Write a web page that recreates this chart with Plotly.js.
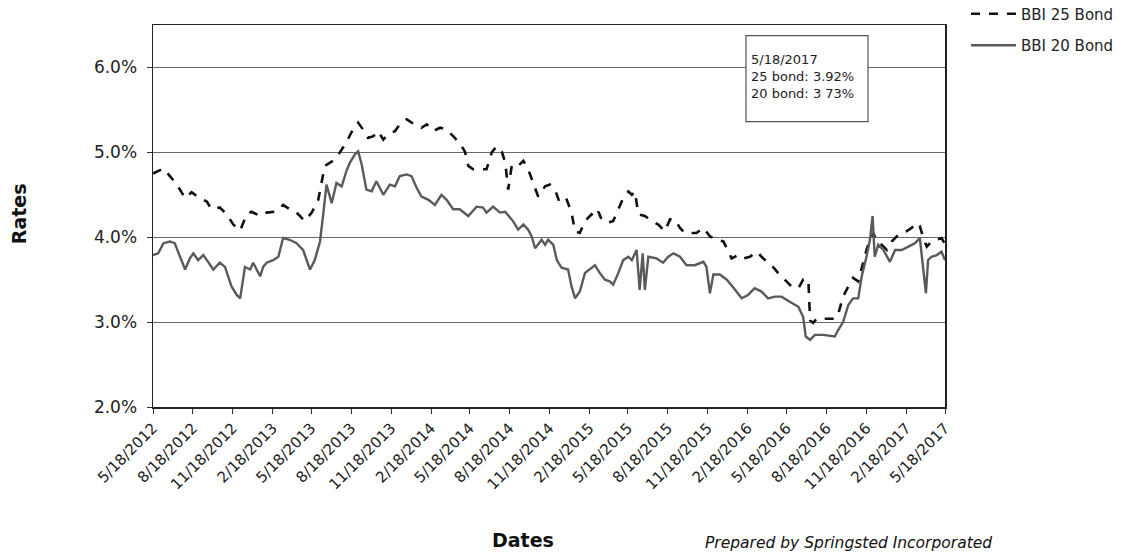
<!DOCTYPE html>
<html>
<head>
<meta charset="utf-8">
<script src="https://cdn.plot.ly/plotly-3.0.1.min.js"></script>
<style>html,body{margin:0;padding:0;background:#fff;}#chart{width:1133px;height:555px;}</style>
</head>
<body>
<div id="chart"></div>
<script>
// ---- Data ----
const bbi25Dates = ['2012-05-18','2012-06-11','2012-06-26','2012-07-12','2012-07-31','2012-08-15','2012-09-03','2012-09-19','2012-09-30','2012-10-19','2012-11-04','2012-11-19','2012-12-05','2012-12-20','2012-12-31','2013-01-20','2013-02-04','2013-02-23','2013-03-14','2013-03-29','2013-04-14','2013-05-03','2013-05-19','2013-06-03','2013-06-18','2013-07-07','2013-07-23','2013-08-07','2013-08-22','2013-09-03','2013-09-14','2013-09-26','2013-10-08','2013-10-19','2013-10-31','2013-11-11','2013-11-27','2013-12-08','2013-12-24','2014-01-04','2014-01-16','2014-01-27','2014-02-08','2014-02-23','2014-03-11','2014-03-26','2014-04-10','2014-04-25','2014-05-07','2014-05-15','2014-05-26','2014-06-11','2014-06-26','2014-07-08','2014-07-19','2014-07-31','2014-08-08','2014-08-15','2014-08-23','2014-09-03','2014-09-19','2014-09-30','2014-10-12','2014-10-23','2014-11-08','2014-11-19','2014-12-01','2014-12-12','2014-12-28','2015-01-08','2015-01-16','2015-01-27','2015-02-08','2015-02-23','2015-03-03','2015-03-11','2015-03-18','2015-03-30','2015-04-14','2015-04-26','2015-05-07','2015-05-19','2015-05-27','2015-06-03','2015-06-11','2015-06-26','2015-07-12','2015-07-27','2015-08-11','2015-08-23','2015-09-03','2015-09-15','2015-09-26','2015-10-08','2015-10-23','2015-11-08','2015-11-23','2015-12-09','2015-12-24','2016-01-01','2016-01-12','2016-01-27','2016-02-08','2016-02-23','2016-03-10','2016-03-25','2016-04-13','2016-04-28','2016-05-14','2016-05-29','2016-06-14','2016-06-25','2016-07-07','2016-07-11','2016-07-18','2016-07-26','2016-08-18','2016-09-06','2016-09-14','2016-09-25','2016-10-07','2016-10-18','2016-10-30','2016-11-07','2016-11-18','2016-11-26','2016-12-04','2016-12-11','2016-12-23','2017-01-04','2017-01-15','2017-01-27','2017-02-07','2017-02-18','2017-03-02','2017-03-14','2017-03-21','2017-03-29','2017-04-06','2017-04-17','2017-04-29','2017-05-10','2017-05-18'];
const bbi25Values = [4.75,4.81,4.72,4.62,4.46,4.53,4.46,4.42,4.33,4.35,4.27,4.15,4.08,4.27,4.30,4.25,4.29,4.30,4.38,4.33,4.29,4.19,4.29,4.44,4.84,4.90,5.00,5.12,5.27,5.35,5.27,5.17,5.19,5.25,5.15,5.21,5.25,5.33,5.39,5.35,5.33,5.29,5.33,5.25,5.29,5.27,5.19,5.11,5.01,4.84,4.80,4.80,4.80,5.00,5.07,5.01,4.88,4.56,4.84,4.82,4.90,4.80,4.62,4.48,4.60,4.62,4.56,4.40,4.44,4.29,4.07,4.05,4.19,4.27,4.23,4.30,4.21,4.17,4.19,4.33,4.46,4.54,4.50,4.54,4.27,4.25,4.19,4.15,4.07,4.21,4.21,4.11,4.05,4.05,4.05,4.11,4.01,3.97,3.95,3.87,3.75,3.79,3.75,3.77,3.83,3.75,3.67,3.58,3.50,3.42,3.40,3.50,3.50,3.02,2.99,3.04,3.04,3.04,3.10,3.30,3.42,3.52,3.48,3.65,3.85,3.97,4.05,3.95,3.91,3.85,3.95,4.01,4.05,4.07,4.11,4.17,4.13,3.99,3.89,3.95,3.97,3.99,3.92];

const bbi20Dates = ['2012-05-18','2012-05-30','2012-06-11','2012-06-26','2012-07-07','2012-07-19','2012-07-31','2012-08-11','2012-08-19','2012-08-30','2012-09-11','2012-09-22','2012-10-04','2012-10-19','2012-10-31','2012-11-15','2012-11-27','2012-12-05','2012-12-16','2012-12-28','2013-01-04','2013-01-20','2013-01-27','2013-02-04','2013-02-19','2013-03-03','2013-03-14','2013-03-29','2013-04-14','2013-04-29','2013-05-15','2013-05-26','2013-06-07','2013-06-14','2013-06-22','2013-07-04','2013-07-15','2013-07-27','2013-08-07','2013-08-15','2013-08-27','2013-09-03','2013-09-11','2013-09-22','2013-10-04','2013-10-15','2013-10-31','2013-11-15','2013-11-27','2013-12-08','2013-12-24','2014-01-04','2014-01-16','2014-01-27','2014-02-12','2014-02-27','2014-03-14','2014-03-26','2014-04-10','2014-04-25','2014-05-15','2014-06-03','2014-06-18','2014-06-26','2014-07-11','2014-07-27','2014-08-08','2014-08-26','2014-09-07','2014-09-19','2014-09-30','2014-10-08','2014-10-16','2014-10-31','2014-11-08','2014-11-15','2014-11-27','2014-12-05','2014-12-16','2014-12-31','2015-01-08','2015-01-16','2015-01-27','2015-02-08','2015-02-19','2015-03-03','2015-03-14','2015-03-26','2015-04-06','2015-04-14','2015-04-26','2015-05-07','2015-05-19','2015-05-27','2015-06-07','2015-06-14','2015-06-21','2015-06-26','2015-07-04','2015-07-23','2015-08-07','2015-08-19','2015-08-31','2015-09-15','2015-09-30','2015-10-19','2015-11-08','2015-11-15','2015-11-23','2015-12-01','2015-12-16','2016-01-01','2016-01-20','2016-02-04','2016-02-19','2016-03-05','2016-03-21','2016-04-05','2016-04-21','2016-05-06','2016-05-25','2016-06-14','2016-06-25','2016-07-01','2016-07-11','2016-07-22','2016-08-10','2016-09-06','2016-09-14','2016-09-25','2016-10-07','2016-10-18','2016-10-30','2016-11-07','2016-11-18','2016-11-26','2016-12-02','2016-12-07','2016-12-15','2016-12-27','2017-01-11','2017-01-23','2017-02-07','2017-02-22','2017-03-10','2017-03-21','2017-03-27','2017-04-04','2017-04-09','2017-04-17','2017-04-29','2017-05-10','2017-05-18'];
const bbi20Values = [3.79,3.81,3.93,3.95,3.93,3.77,3.62,3.75,3.81,3.73,3.79,3.71,3.62,3.70,3.65,3.42,3.32,3.28,3.65,3.62,3.70,3.54,3.65,3.70,3.73,3.77,3.99,3.97,3.93,3.85,3.62,3.73,3.95,4.25,4.62,4.40,4.64,4.60,4.78,4.88,4.98,5.01,4.86,4.56,4.54,4.66,4.50,4.62,4.60,4.72,4.74,4.72,4.58,4.48,4.44,4.38,4.50,4.44,4.33,4.33,4.25,4.36,4.35,4.29,4.36,4.29,4.30,4.19,4.09,4.15,4.09,4.01,3.87,3.97,3.91,3.97,3.91,3.73,3.64,3.62,3.42,3.28,3.36,3.58,3.62,3.67,3.58,3.50,3.48,3.44,3.58,3.73,3.77,3.73,3.85,3.38,3.81,3.38,3.77,3.75,3.70,3.77,3.81,3.77,3.67,3.67,3.71,3.65,3.34,3.56,3.56,3.50,3.38,3.28,3.32,3.40,3.36,3.28,3.30,3.30,3.24,3.18,3.06,2.83,2.79,2.85,2.85,2.83,2.91,3.00,3.20,3.28,3.28,3.54,3.77,3.97,4.25,3.77,3.91,3.85,3.71,3.85,3.85,3.89,3.93,3.99,3.73,3.34,3.73,3.77,3.79,3.83,3.73];

const seriesNames = ['BBI 25 Bond', 'BBI 20 Bond'];
const tickDates = ['2012-05-18','2012-08-18','2012-11-18','2013-02-18','2013-05-18','2013-08-18','2013-11-18','2014-02-18','2014-05-18','2014-08-18','2014-11-18','2015-02-18','2015-05-18','2015-08-18','2015-11-18','2016-02-18','2016-05-18','2016-08-18','2016-11-18','2017-02-18','2017-05-18'];
const tickLabels = ['5/18/2012','8/18/2012','11/18/2012','2/18/2013','5/18/2013','8/18/2013','11/18/2013','2/18/2014','5/18/2014','8/18/2014','11/18/2014','2/18/2015','5/18/2015','8/18/2015','11/18/2015','2/18/2016','5/18/2016','8/18/2016','11/18/2016','2/18/2017','5/18/2017'];
const yTicks = [2, 3, 4, 5, 6];
const yTickLabels = ['2.0%', '3.0%', '4.0%', '5.0%', '6.0%'];
const noteLines = ['5/18/2017', '25 bond: 3.92%', '20 bond: 3 73%'];

const FONT = 'DejaVu Sans, Arial, sans-serif';

const traces = [
  {
    x: bbi25Dates, y: bbi25Values, name: seriesNames[0], type: 'scatter', mode: 'lines',
    legendgroup: 'g25',
    line: {color: '#111111', width: 2.6, dash: 'dash'}
  },
  {
    x: bbi20Dates, y: bbi20Values, name: seriesNames[1], type: 'scatter', mode: 'lines',
    legendgroup: 'g20',
    line: {color: '#5a5a5a', width: 2.4}
  }
];

const layout = {
  width: 1133, height: 555,
  margin: {l: 153, r: 188, t: 25, b: 148, pad: 0, autoexpand: false},
  paper_bgcolor: '#ffffff', plot_bgcolor: '#ffffff',
  font: {family: FONT, color: '#222222'},
  showlegend: true,
  legend: {
    x: 1.0265, xanchor: 'left', y: 1.072, yanchor: 'top',
    font: {family: FONT, size: 15, color: '#222222'},
    bgcolor: 'rgba(0,0,0,0)', borderwidth: 0, tracegroupgap: 9,
    itemwidth: 45
  },
  xaxis: {
    type: 'date',
    range: ['2012-05-18', '2017-05-18'],
    tickmode: 'array', tickvals: tickDates, ticktext: tickLabels,
    tickangle: -45,
    tickfont: {family: FONT, size: 15, color: '#222222'},
    ticks: 'outside', ticklen: 5, tickcolor: '#333333', tickwidth: 1,
    showgrid: false, zeroline: false,
    showline: true, linecolor: '#222222', linewidth: 1.5, mirror: true
  },
  yaxis: {
    range: [2, 6.5],
    tickmode: 'array', tickvals: yTicks, ticktext: yTickLabels,
    tickfont: {family: FONT, size: 17, color: '#222222'},
    ticks: 'outside', ticklen: 5, tickcolor: '#333333', tickwidth: 1,
    ticklabelstandoff: 6,
    showgrid: true, gridcolor: '#6a6a6a', gridwidth: 1.2,
    zeroline: false,
    showline: true, linecolor: '#222222', linewidth: 1.5, mirror: true
  },
  shapes: [
    {type: 'rect', xref: 'paper', yref: 'paper', x0: 0.7487, x1: 0.9028, y0: 0.747, y1: 0.972,
     line: {color: '#555555', width: 1.2}, fillcolor: '#ffffff', layer: 'above'}
  ],
  annotations: [
    {xref: 'paper', yref: 'paper', x: 0.7525, y: 0.935, xanchor: 'left', yanchor: 'top',
     align: 'left', showarrow: false, text: noteLines.join('<br>'),
     font: {family: FONT, size: 13, color: '#222222'}},
    {xref: 'paper', yref: 'paper', x: -0.169, y: 0.505, xanchor: 'center', yanchor: 'middle',
     textangle: -90, showarrow: false, text: '<b>Rates</b>',
     font: {family: FONT, size: 19, color: '#111111'}},
    {xref: 'paper', yref: 'paper', x: 0.467, y: -0.348, xanchor: 'center', yanchor: 'middle',
     showarrow: false, text: '<b>Dates</b>',
     font: {family: FONT, size: 19, color: '#111111'}},
    {xref: 'paper', yref: 'paper', x: 0.695, y: -0.355, xanchor: 'left', yanchor: 'middle',
     showarrow: false, text: '<i>Prepared by Springsted Incorporated</i>',
     font: {family: FONT, size: 15.5, color: '#111111'}}
  ]
};

Plotly.newPlot('chart', traces, layout, {displayModeBar: false, staticPlot: true});
</script>
</body>
</html>
